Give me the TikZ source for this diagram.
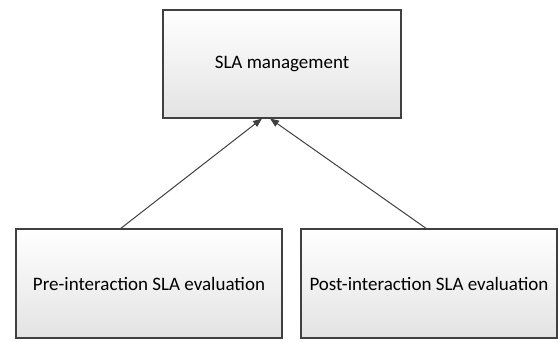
\documentclass[tikz,border=0pt]{standalone}
\usepackage{fontspec}
\setmainfont{Carlito}
\usetikzlibrary{arrows.meta}
\begin{document}
\begin{tikzpicture}[x=1pt,y=-1pt,
  boxstyle/.style={draw=black!75, line width=1.3pt, top color=white, bottom color=black!11, inner sep=0pt},
  conn/.style={draw=black!75, line width=1pt, -{Triangle[length=9pt,width=7pt]}},
  lbl/.style={font=\fontsize{19}{22}\selectfont, text=black}]
\useasboundingbox (0,0) rectangle (559,341);
\node[boxstyle, minimum width=238pt, minimum height=108pt] (top) at (282,64) {};
\node[lbl] at (top.center) {SLA management};
\node[boxstyle, minimum width=266pt, minimum height=109pt] (pre) at (149,283.5) {};
\node[lbl] at (pre.center) {Pre-interaction SLA evaluation};
\node[boxstyle, minimum width=256pt, minimum height=109pt] (post) at (429,283.5) {};
\node[lbl] at (post.center) {Post-interaction SLA evaluation};
\coordinate (t1) at (262,118.5);
\coordinate (t2) at (270,118.5);
\coordinate (s1) at (120,229);
\coordinate (s2) at (427,229);
\draw[conn] (s1) -- (t1);
\draw[conn] (s2) -- (t2);
\end{tikzpicture}
\end{document}
